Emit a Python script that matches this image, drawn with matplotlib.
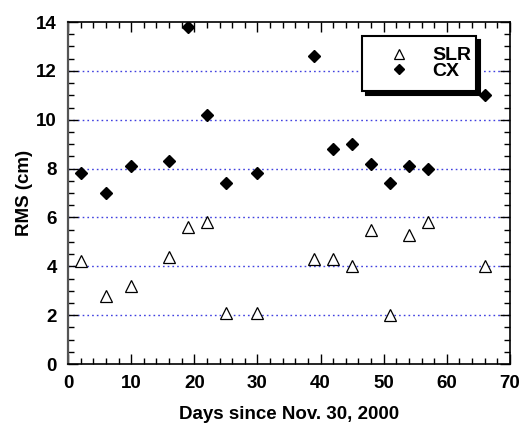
import numpy as np
import matplotlib
matplotlib.use("Agg")
import matplotlib.pyplot as plt
from matplotlib.ticker import MultipleLocator

plt.rcParams['font.family'] = ['Liberation Sans', 'DejaVu Sans']
plt.rcParams['font.weight'] = 'bold'

days = [2, 6, 10, 16, 19, 22, 25, 30, 39, 42, 45, 48, 51, 54, 57, 66]
slr = [4.2, 2.8, 3.2, 4.4, 5.6, 5.8, 2.1, 2.1, 4.3, 4.3, 4.0, 5.5, 2.0, 5.3, 5.8, 4.0]
cx = [7.8, 7.0, 8.1, 8.3, 13.8, 10.2, 7.4, 7.8, 12.6, 8.8, 9.0, 8.2, 7.4, 8.1, 8.0, 11.0]

fig = plt.figure(figsize=(5.29, 4.23), dpi=100)
ax = fig.add_axes([68/529, 1-364/423, (510-68)/529, (364-22)/423])

for y in range(2, 14, 2):
    ax.axhline(y, color='#4040e0', ls=(0, (1.2, 2.2)), lw=1.0, zorder=0)

ax.plot(days, slr, ls='none', marker='^', ms=9, mfc='white', mec='black', mew=0.9, label='SLR')
ax.plot(days, cx, ls='none', marker='D', ms=6.5, mfc='black', mec='black', label='CX')

ax.set_xlim(0, 70)
ax.set_ylim(0, 14)
ax.xaxis.set_major_locator(MultipleLocator(10))
ax.xaxis.set_minor_locator(MultipleLocator(2))
ax.yaxis.set_major_locator(MultipleLocator(2))
ax.yaxis.set_minor_locator(MultipleLocator(0.5))
ax.tick_params(which='both', direction='in', top=True, right=True, labelsize=13.5, width=1.0, colors='black')
ax.tick_params(which='major', length=7)
ax.tick_params(which='minor', length=4.5)
ax.tick_params(axis='x', pad=8)
ax.tick_params(axis='y', pad=8)
for s in ax.spines.values():
    s.set_linewidth(1.2)
ax.spines['left'].set_color('#555555')
ax.spines['left'].set_linewidth(1.6)

ax.set_xlabel('Days since Nov. 30, 2000', fontsize=13.5, fontweight='bold', labelpad=10)
ax.set_ylabel('RMS (cm)', fontsize=13.5, fontweight='bold', labelpad=2)

bx0 = (362-68)/442
bw = (476-362)/442
by0 = 1-(92-22)/342
bh = (92-36)/342
leg = ax.legend(loc='upper left', bbox_to_anchor=(bx0, by0, bw, bh),
                mode='expand', fancybox=False, edgecolor='black', framealpha=1,
                shadow={'ox': 3, 'oy': -3, 'color': 'black', 'alpha': 1},
                prop={'size': 14, 'weight': 'bold'}, handletextpad=0.36, borderaxespad=0,
                labelspacing=-0.1, borderpad=0.55, handlelength=2.7, markerscale=0.8)
leg.get_frame().set_linewidth(1.5)

fig.savefig('out.png', dpi=100)
